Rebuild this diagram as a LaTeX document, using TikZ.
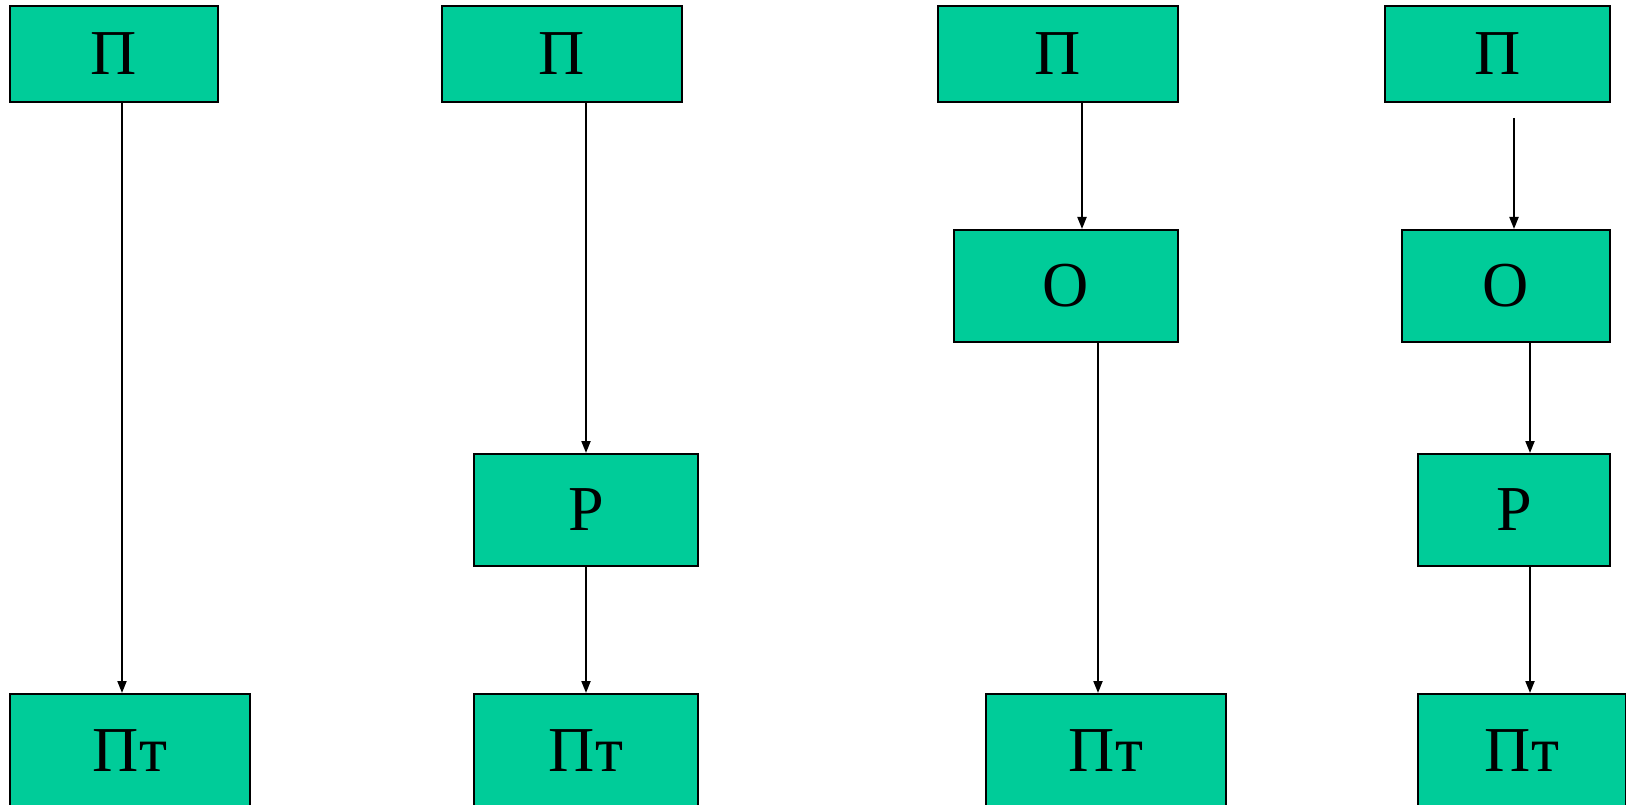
\documentclass[tikz,border=0pt]{standalone}
\usepackage{fontspec}
\setmainfont{Liberation Serif}
\usetikzlibrary{arrows.meta}
\definecolor{boxgreen}{HTML}{00CC99}
\tikzset{
  blk/.style={draw=black, line width=2pt, fill=boxgreen, inner sep=0pt,
    font=\fontsize{64}{70}\selectfont, text=black},
  arr/.style={draw=black, line width=2pt, -{Triangle[length=12pt,width=9pt]}}
}
\begin{document}
\begin{tikzpicture}[x=1pt,y=-1pt]
\useasboundingbox[fill=white] (0,0) rectangle (1626,805);
% top row
\node[blk, minimum width=208pt, minimum height=96pt] (p1) at (114,54) {П};
\node[blk, minimum width=240pt, minimum height=96pt] (p2) at (562,54) {П};
\node[blk, minimum width=240pt, minimum height=96pt] (p3) at (1058,54) {П};
\node[blk, minimum width=225pt, minimum height=96pt] (p4) at (1497.5,54) {П};
% O row
\node[blk, minimum width=224pt, minimum height=112pt] (o3) at (1066,286) {О};
\node[blk, minimum width=208pt, minimum height=112pt] (o4) at (1506,286) {О};
% R row
\node[blk, minimum width=224pt, minimum height=112pt] (r2) at (586,510) {Р};
\node[blk, minimum width=192pt, minimum height=112pt] (r4) at (1514,510) {Р};
% bottom row
\node[blk, minimum width=240pt, minimum height=114pt] (t1) at (130,751) {Пт};
\node[blk, minimum width=224pt, minimum height=114pt] (t2) at (586,751) {Пт};
\node[blk, minimum width=240pt, minimum height=114pt] (t3) at (1106,751) {Пт};
\node[blk, minimum width=208pt, minimum height=114pt] (t4) at (1522,751) {Пт};
% guide x positions
\coordinate (x1) at (122,0);
\coordinate (x2) at (586,0);
\coordinate (x3a) at (1082,0);
\coordinate (x3b) at (1098,0);
\coordinate (x4b) at (1530,0);
\coordinate (s4) at (1514,118);
% connectors
\draw[arr] (p1.south -| x1) -- (t1.north -| x1);
\draw[arr] (p2.south -| x2) -- (r2.north -| x2);
\draw[arr] (r2.south -| x2) -- (t2.north -| x2);
\draw[arr] (p3.south -| x3a) -- (o3.north -| x3a);
\draw[arr] (o3.south -| x3b) -- (t3.north -| x3b);
\draw[arr] (s4) -- (o4.north -| s4);
\draw[arr] (o4.south -| x4b) -- (r4.north -| x4b);
\draw[arr] (r4.south -| x4b) -- (t4.north -| x4b);
\end{tikzpicture}
\end{document}
